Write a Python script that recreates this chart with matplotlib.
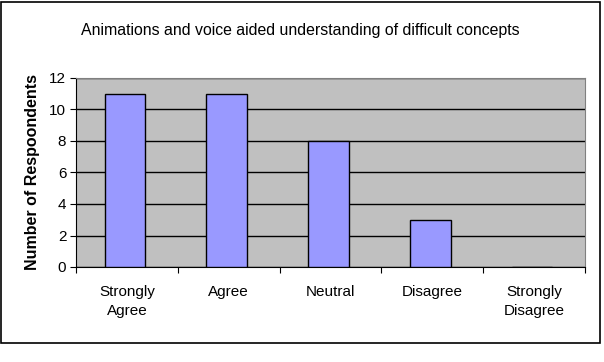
import matplotlib.pyplot as plt
from matplotlib.patches import Rectangle
import numpy as np

categories = ['Strongly\nAgree', 'Agree', 'Neutral', 'Disagree', 'Strongly\nDisagree']
respondents = [11, 11, 8, 3, 0]
yticks = [0, 2, 4, 6, 8, 10, 12]

plt.rcParams['font.family'] = ['Liberation Sans', 'DejaVu Sans']

W, H = 604, 362
fig = plt.figure(figsize=(W / 100, H / 100), dpi=100)

# outer chart frame
fig.patches.append(Rectangle((1 / W, 1 - 343 / H), 599 / W, 341 / H,
                             transform=fig.transFigure, fill=False,
                             edgecolor='black', linewidth=1.2))

ax = fig.add_axes([76 / W, 1 - 267 / H, (585 - 76) / W, (267 - 78) / H])
ax.set_facecolor('#C0C0C0')

x = np.arange(len(categories))
ax.bar(x - 0.02, respondents, width=0.4, color='#9999FF', edgecolor='black',
       linewidth=1, zorder=3)

ax.set_xlim(-0.5, len(categories) - 0.5)
ax.set_ylim(0, 12)
ax.set_yticks(yticks)
ax.yaxis.grid(True, color='black', linewidth=1, zorder=1)
ax.set_axisbelow(True)

ax.set_xticks(np.arange(len(categories) + 1) - 0.5)
ax.set_xticklabels([])
ax.set_xticks(x, minor=True)
ax.set_xticklabels(categories, minor=True, fontsize=11, linespacing=1.45)
ax.tick_params(axis='x', which='minor', length=0, pad=13)
ax.tick_params(axis='x', which='major', length=4, direction='out')
ax.tick_params(axis='y', length=4, direction='out', labelsize=11, pad=3)

for s in ['top', 'right']:
    ax.spines[s].set_color('#808080')
ax.spines['left'].set_color('black')
ax.spines['bottom'].set_color('black')

ax.set_ylabel('Number of Respoondents', fontsize=11.5, fontweight='bold', labelpad=7)
fig.text(0.497, 1 - 30 / H, 'Animations and voice aided understanding of difficult concepts',
         ha='center', va='center', fontsize=11.4)

fig.savefig('out.png', dpi=100)
